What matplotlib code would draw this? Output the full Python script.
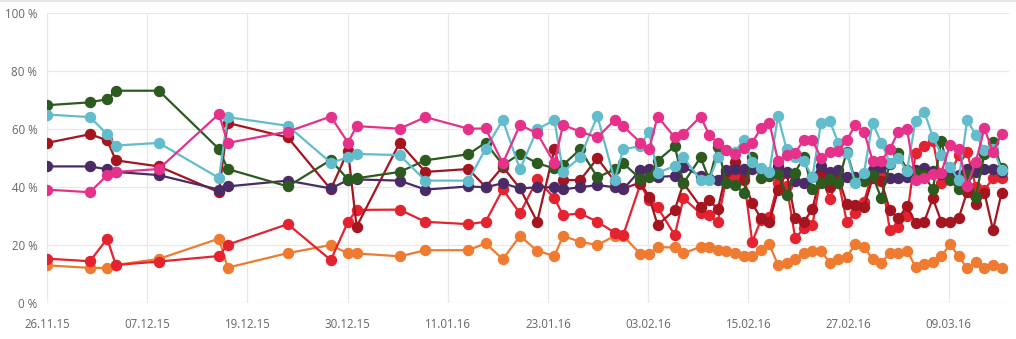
import matplotlib
matplotlib.use("Agg")
import matplotlib.pyplot as plt
import matplotlib.dates as mdates
import pandas as pd
import numpy as np

start_date = "2015-11-26"
day_offsets = [0, 5, 7, 8, 13, 20, 21, 28, 33, 35, 36, 41, 44, 49,
               51, 53, 55, 57, 59, 60, 62, 64, 66, 67, 69, 70, 71, 73, 74, 76, 77, 78, 79, 80,
               81, 82, 83, 84, 85, 86, 87, 88, 89, 90, 91, 92, 93, 94, 95, 96, 97, 98, 99, 100,
               101, 102, 103, 104, 105, 106, 107, 108, 109, 110, 111]

green = [68.2, 69.2, 70.3, 73.2, 73.2, 53.1, 46.2, 40.2, 49.3, 42.6, 43.0, 45.2, 49.2, 51.3,
         55.3, 47.6, 51.4, 48.2, 46.4, 47.6, 53.0, 43.3, 46.1, 48.2, 42.8, 43.3, 49.1, 54.1, 41.3, 50.2, 42.6, 53.9, 41.3, 40.7,
         38.0, 50.2, 43.0, 44.0, 44.5, 37.2, 45.0, 50.5, 39.2, 41.3, 42.6, 41.5, 52.2, 42.0, 42.0, 44.0, 36.1, 48.0, 51.6, 46.0,
         45.0, 44.0, 39.2, 56.0, 42.4, 39.2, 44.0, 36.7, 51.4, 55.6, 46.4]
cyan = [65.0, 64.1, 58.2, 54.3, 55.2, 43.1, 64.1, 61.1, 48.4, 50.2, 51.4, 51.0, 42.2, 42.2,
        53.2, 63.1, 46.1, 59.9, 63.1, 45.3, 50.2, 64.5, 42.4, 53.0, 54.1, 59.1, 44.9, 47.2, 50.2, 42.4, 42.5, 50.2, 52.8, 52.2,
        56.2, 48.7, 46.4, 45.3, 64.5, 53.0, 50.2, 49.1, 43.3, 62.2, 62.9, 55.3, 51.6, 41.3, 44.9, 62.2, 55.3, 48.4, 49.9, 45.6,
        62.9, 66.0, 57.4, 51.0, 47.0, 42.4, 63.1, 57.9, 52.8, 53.0, 45.9]
darkred = [55.2, 58.2, 56.1, 49.2, 47.1, 38.2, 62.1, 57.1, 39.2, 52.5, 26.3, 55.2, 45.2, 46.2,
           40.0, 47.0, 39.5, 28.0, 53.0, 42.4, 42.4, 49.9, 42.0, 39.5, 41.5, 36.7, 26.9, 32.1, 41.3, 33.2, 35.5, 32.3, 45.3, 48.7,
           42.4, 34.4, 29.2, 28.0, 39.0, 45.0, 29.2, 28.0, 32.3, 45.3, 40.0, 43.6, 34.1, 33.8, 33.2, 43.0, 42.0, 32.1, 29.2, 33.4,
           27.5, 28.0, 36.1, 28.0, 28.0, 29.2, 38.4, 34.1, 38.0, 25.2, 38.0]
purple = [47.1, 47.1, 46.1, 45.2, 44.1, 39.1, 40.2, 42.2, 39.5, 42.4, 42.6, 42.2, 39.1, 40.2,
          39.9, 41.3, 39.5, 39.9, 39.9, 39.2, 39.9, 40.7, 39.9, 39.2, 45.9, 46.1, 43.5, 43.8, 47.0, 43.8, 42.9, 42.4, 45.9, 46.1,
          46.1, 46.1, 46.1, 43.8, 47.2, 45.3, 42.2, 41.3, 43.3, 47.2, 45.3, 45.9, 43.3, 43.3, 43.3, 45.9, 47.0, 43.0, 43.0, 43.3,
          45.9, 46.4, 45.6, 44.5, 44.1, 44.1, 46.1, 45.3, 46.1, 46.1, 45.3]
pink = [39.1, 38.2, 44.1, 45.2, 46.2, 65.2, 55.2, 59.1, 64.3, 55.3, 61.0, 60.1, 64.1, 60.1,
        60.2, 48.2, 61.4, 58.5, 48.2, 61.4, 59.1, 57.1, 63.1, 61.0, 55.3, 53.0, 64.3, 57.1, 58.3, 64.3, 57.9, 55.3, 52.8, 51.5,
        53.3, 55.3, 60.2, 62.2, 49.0, 51.0, 51.8, 56.2, 56.2, 50.0, 52.2, 52.5, 56.2, 61.4, 59.1, 49.1, 49.1, 53.0, 59.1, 60.0,
        42.4, 43.0, 44.5, 45.0, 54.5, 53.0, 40.5, 48.7, 60.2, 52.0, 58.3]
red = [15.3, 14.4, 22.2, 13.1, 14.3, 16.2, 20.1, 27.2, 14.8, 28.0, 32.1, 32.2, 28.0, 27.2,
       28.0, 39.2, 30.9, 42.6, 36.1, 30.3, 30.9, 28.0, 24.3, 23.4, 41.0, 35.5, 33.0, 23.4, 36.1, 30.9, 30.3, 28.0, 43.0, 43.3,
       43.8, 21.1, 28.5, 29.8, 41.3, 40.5, 22.3, 25.7, 26.9, 44.0, 36.0, 42.4, 28.0, 30.9, 35.0, 45.0, 44.0, 25.2, 26.3, 30.0,
       51.6, 54.1, 56.0, 41.3, 44.0, 51.0, 52.0, 40.0, 39.0, 43.0, 43.0]
orange = [13.0, 12.1, 12.1, 13.1, 15.2, 22.2, 12.2, 17.2, 20.0, 17.1, 17.1, 16.1, 18.2, 18.2,
          20.6, 15.1, 23.1, 18.0, 16.2, 23.1, 21.1, 20.0, 23.1, 23.1, 16.9, 16.9, 19.2, 19.2, 17.1, 19.4, 19.4, 18.3, 18.0, 17.1,
          16.2, 16.2, 18.3, 20.2, 13.1, 13.9, 15.1, 17.1, 18.0, 18.0, 13.9, 15.1, 16.0, 20.2, 19.4, 15.1, 13.9, 17.1, 17.1, 18.0,
          12.5, 13.4, 14.3, 16.2, 20.2, 16.2, 12.0, 14.3, 12.0, 13.1, 12.0]

series = [
    ("orange", orange, "#ef7b30"),
    ("red", red, "#e52330"),
    ("darkred", darkred, "#a5151f"),
    ("purple", purple, "#4a2b66"),
    ("green", green, "#2c5a1f"),
    ("cyan", cyan, "#62bccb"),
    ("pink", pink, "#e6318b"),
]

tick_labels = ["26.11.15", "07.12.15", "19.12.15", "30.12.15", "11.01.16",
               "23.01.16", "03.02.16", "15.02.16", "27.02.16", "09.03.16"]
y_ticks = [0, 20, 40, 60, 80, 100]

t0 = pd.Timestamp(start_date)
dates = [t0 + pd.Timedelta(days=d) for d in day_offsets]
x = mdates.date2num(dates)
x0 = mdates.date2num(t0)

plt.rcParams['font.family'] = ['Open Sans', 'DejaVu Sans']
fig = plt.figure(figsize=(10.16, 3.39), dpi=100)
ax = fig.add_axes([47/1016, 36/339, (1009-47)/1016, 290/339])

for name, vals, col in series:
    ax.plot(x, vals, color=col, lw=1.6, marker='o', ms=7.2, mec=col, mfc=col, zorder=3)

step = 100.2 / 8.6
ax.set_xticks([x0 + k * step for k in range(len(tick_labels))])
ax.set_xticklabels(tick_labels)
ax.set_yticks(y_ticks)
ax.set_yticklabels([f"{v} %" for v in y_ticks])
ax.set_xlim(x0, x0 + (1009 - 47) / 8.6)
ax.set_ylim(0, 100)
ax.grid(True, color="#e8e8e8", lw=0.9, zorder=0)
for s in ax.spines.values():
    s.set_visible(False)
ax.tick_params(length=0, labelsize=8.3, labelcolor="#666666")
ax.tick_params(axis='x', pad=11)
ax.tick_params(axis='y', pad=7)
ax.set_axisbelow(True)
line = matplotlib.lines.Line2D([0, 1], [0.996, 0.996], transform=fig.transFigure, color="#e6e6e6", lw=1.5)
fig.add_artist(line)
fig.savefig("out.png", dpi=100)
